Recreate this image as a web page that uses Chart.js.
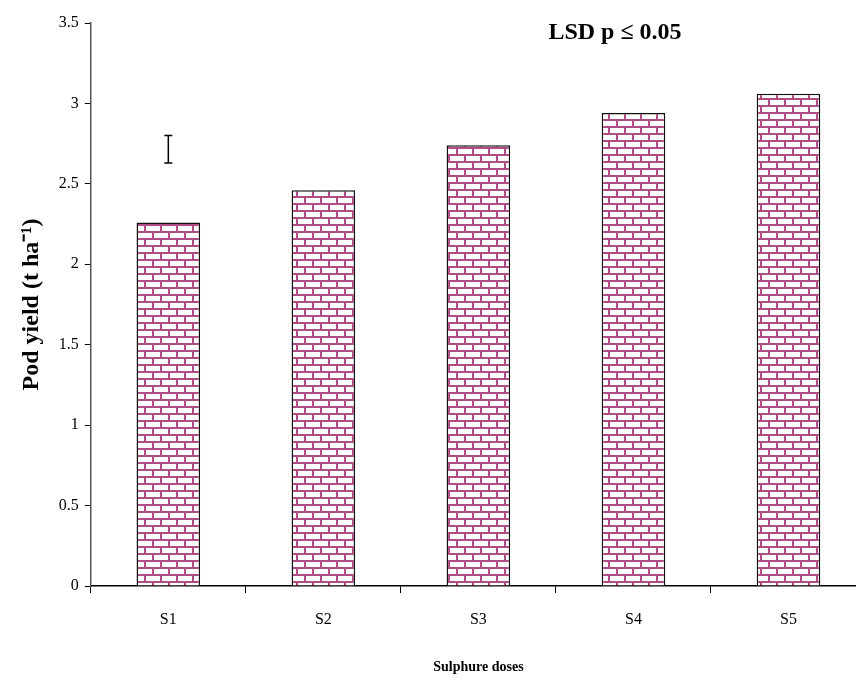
<!DOCTYPE html>
<html>
<head>
<meta charset="utf-8">
<script src="https://cdn.jsdelivr.net/npm/chart.js@4.4.0/dist/chart.umd.min.js"></script>
<style>
  html, body { margin: 0; padding: 0; background: #fff; overflow: hidden; }
</style>
</head>
<body>
<canvas id="podChart" width="866" height="681"></canvas>
<script>
const doses = ['S1', 'S2', 'S3', 'S4', 'S5'];
const podYield = [2.26, 2.46, 2.74, 2.94, 3.06];
const lsdLow = [2.63];
const lsdHigh = [2.80];
const yTicks = [0, 0.5, 1, 1.5, 2, 2.5, 3, 3.5];

// brick hatch like the old excel fill
function brickPattern() {
    const c = document.createElement('canvas');
    c.width = 16; c.height = 14;
    const g = c.getContext('2d');
    g.fillStyle = '#fff';
    g.fillRect(0, 0, 16, 14);
    g.fillStyle = '#b04c84';
    g.fillRect(0, 0, 16, 2);
    g.fillRect(0, 7, 16, 2);
    g.fillRect(0, 0, 2, 7);
    g.fillRect(8, 7, 2, 7);
    return document.getElementById('podChart').getContext('2d').createPattern(c, 'repeat');
}

const extras = {
    id: 'extras',
    afterDatasetsDraw(chart) {
        const ctx = chart.ctx;
        const x = chart.scales.x, y = chart.scales.y;
        ctx.save();
        ctx.strokeStyle = '#000';
        ctx.lineWidth = 1.5;
        for (let i = 0; i < lsdLow.length; i++) {
            const px = x.getPixelForValue(i);
            const top = y.getPixelForValue(lsdHigh[i]);
            const bot = y.getPixelForValue(lsdLow[i]);
            ctx.beginPath();
            ctx.moveTo(px, top); ctx.lineTo(px, bot);
            ctx.moveTo(px - 4, top); ctx.lineTo(px + 4, top);
            ctx.moveTo(px - 4, bot); ctx.lineTo(px + 4, bot);
            ctx.stroke();
        }
        ctx.fillStyle = '#000';
        ctx.font = 'bold 24px "Liberation Serif", "Times New Roman", serif';
        ctx.textAlign = 'center';
        ctx.textBaseline = 'middle';
        ctx.fillText('LSD p \u2264 0.05', 615, 33);
        ctx.restore();
    }
};

new Chart(document.getElementById('podChart'), {
    type: 'bar',
    data: {
        labels: doses,
        datasets: [{
            data: podYield,
            backgroundColor: brickPattern(),
            borderColor: '#111',
            borderWidth: 1.5,
            borderSkipped: 'bottom',
            barPercentage: 0.41,
            categoryPercentage: 1
        }]
    },
    options: {
        responsive: false,
        animation: false,
        layout: { padding: { top: 23, right: 0, left: 17, bottom: 5 } },
        plugins: {
            legend: { display: false },
            tooltip: { enabled: false }
        },
        scales: {
            x: {
                grid: { display: true, drawOnChartArea: false, color: '#000', tickLength: 7, offset: true },
                border: { color: '#000', width: 1.5 },
                ticks: {
                    color: '#000',
                    padding: 17,
                    font: { family: '"Liberation Serif", "Times New Roman", serif', size: 16 }
                },
                title: {
                    display: true,
                    text: 'Sulphure doses',
                    color: '#000',
                    padding: { top: 13, bottom: 0 },
                    font: { family: '"Liberation Serif", "Times New Roman", serif', size: 14, weight: 'bold' }
                }
            },
            y: {
                min: 0,
                max: 3.5,
                afterBuildTicks(scale) { scale.ticks = yTicks.map(v => ({ value: v })); },
                grid: { display: true, drawOnChartArea: false, color: '#000', tickLength: 6 },
                border: { color: '#555', width: 1.5 },
                ticks: {
                    color: '#000',
                    padding: 6,
                    callback: v => String(v),
                    font: { family: '"Liberation Serif", "Times New Roman", serif', size: 16 }
                },
                title: {
                    display: true,
                    text: 'Pod yield (t ha\u207B\u00B9)',
                    color: '#000',
                    padding: { top: 0, bottom: 7 },
                    font: { family: '"Liberation Serif", "Times New Roman", serif', size: 24, weight: 'bold' }
                }
            }
        }
    },
    plugins: [extras]
});
</script>
</body>
</html>
